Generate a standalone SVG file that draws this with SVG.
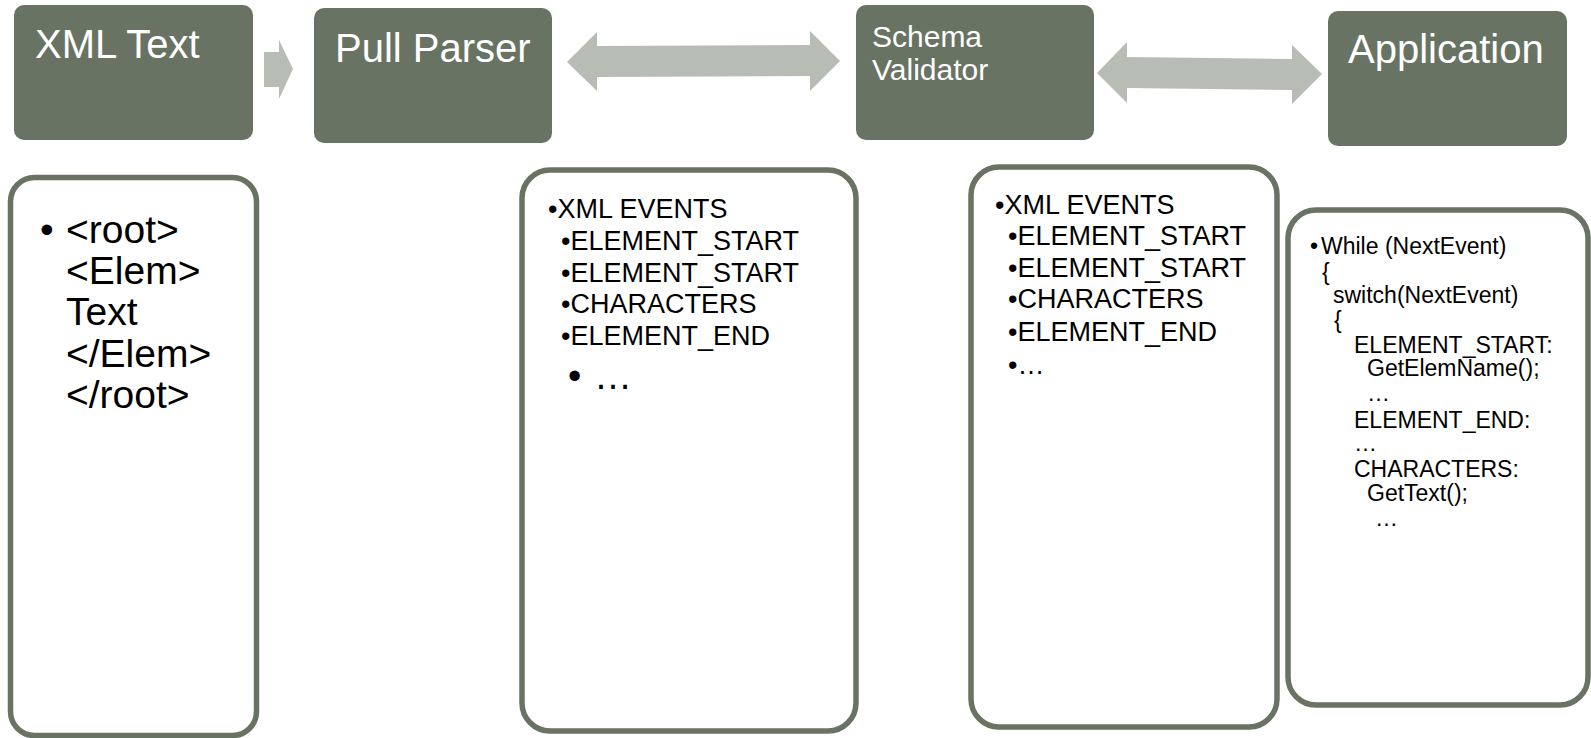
<svg xmlns="http://www.w3.org/2000/svg" width="1591" height="738" viewBox="0 0 1591 738">
<style>
.hdr{fill:#687363}
.hdrt{fill:#ffffff;font-family:"Liberation Sans",Arial,sans-serif}
.arr{fill:#b7bcb5}
.card{fill:#ffffff;stroke:#687363;stroke-width:5.5}
.t{fill:#000000;font-family:"Liberation Sans",Arial,sans-serif}
</style>
<rect width="1591" height="738" fill="#ffffff"/>
<g id="connectors">
<polygon class="arr" points="264,52 279,52 279,40 293,69 279,99 279,87 264,87"/>
<polygon class="arr" points="567,62 597,32 597,46 810,45 810,31 840,61 810,91 810,76 597,77 597,91"/>
<polygon class="arr" points="1097,73 1127,42 1127,57 1292,59 1292,45 1322,74 1292,104 1292,90 1127,88 1127,103"/>
</g>
<g id="xml-text">
<rect class="hdr" x="14" y="5" width="239" height="135" rx="10"/>
<text class="hdrt" x="35" y="58" font-size="40">XML Text</text>
</g>
<g id="pull-parser">
<rect class="hdr" x="314" y="8" width="238" height="135" rx="10"/>
<text class="hdrt" x="335" y="62" font-size="40">Pull Parser</text>
</g>
<g id="schema-validator">
<rect class="hdr" x="856" y="5" width="238" height="135" rx="10"/>
<text class="hdrt" x="872" y="47" font-size="30">Schema</text>
<text class="hdrt" x="872" y="80" font-size="30">Validator</text>
</g>
<g id="application">
<rect class="hdr" x="1328" y="11" width="239" height="135" rx="10"/>
<text class="hdrt" x="1348" y="63" font-size="40">Application</text>
</g>
<g id="xml-card">
<rect class="card" x="10.5" y="177.5" width="246" height="558" rx="24"/>
<g class="t" font-size="39">
<text x="40" y="243">•</text>
<text x="66" y="243">&lt;root&gt;</text>
<text x="66" y="284">&lt;Elem&gt;</text>
<text x="66" y="325">Text</text>
<text x="66" y="367">&lt;/Elem&gt;</text>
<text x="66" y="408">&lt;/root&gt;</text>
</g>
</g>
<g id="parser-card">
<rect class="card" x="522" y="170" width="334" height="561" rx="28"/>
<g class="t" font-size="27">
<text x="548" y="218">•XML EVENTS</text>
<text x="561" y="250">•ELEMENT_START</text>
<text x="561" y="282">•ELEMENT_START</text>
<text x="561" y="313">•CHARACTERS</text>
<text x="561" y="345">•ELEMENT_END</text>
</g>
<text class="t" x="568" y="389" font-size="38">•</text>
<text class="t" x="594" y="389" font-size="38">…</text>
</g>
<g id="validator-card">
<rect class="card" x="971" y="167" width="306" height="560" rx="28"/>
<g class="t" font-size="27">
<text x="995" y="214">•XML EVENTS</text>
<text x="1008" y="245">•ELEMENT_START</text>
<text x="1008" y="277">•ELEMENT_START</text>
<text x="1008" y="308">•CHARACTERS</text>
<text x="1008" y="341">•ELEMENT_END</text>
<text x="1008" y="374">•…</text>
</g>
</g>
<g id="application-card">
<rect class="card" x="1288" y="210" width="300" height="495" rx="28"/>
<g class="t" font-size="23">
<text x="1310" y="254">•</text>
<text x="1321" y="254">While (NextEvent)</text>
<text x="1322" y="280">{</text>
<text x="1333" y="303">switch(NextEvent)</text>
<text x="1334" y="328">{</text>
<text x="1354" y="353">ELEMENT_START:</text>
<text x="1367" y="376">GetElemName();</text>
<text x="1367" y="401">…</text>
<text x="1354" y="428">ELEMENT_END:</text>
<text x="1354" y="451">…</text>
<text x="1354" y="477">CHARACTERS:</text>
<text x="1367" y="501">GetText();</text>
<text x="1375" y="526">…</text>
</g>
</g>
</svg>
